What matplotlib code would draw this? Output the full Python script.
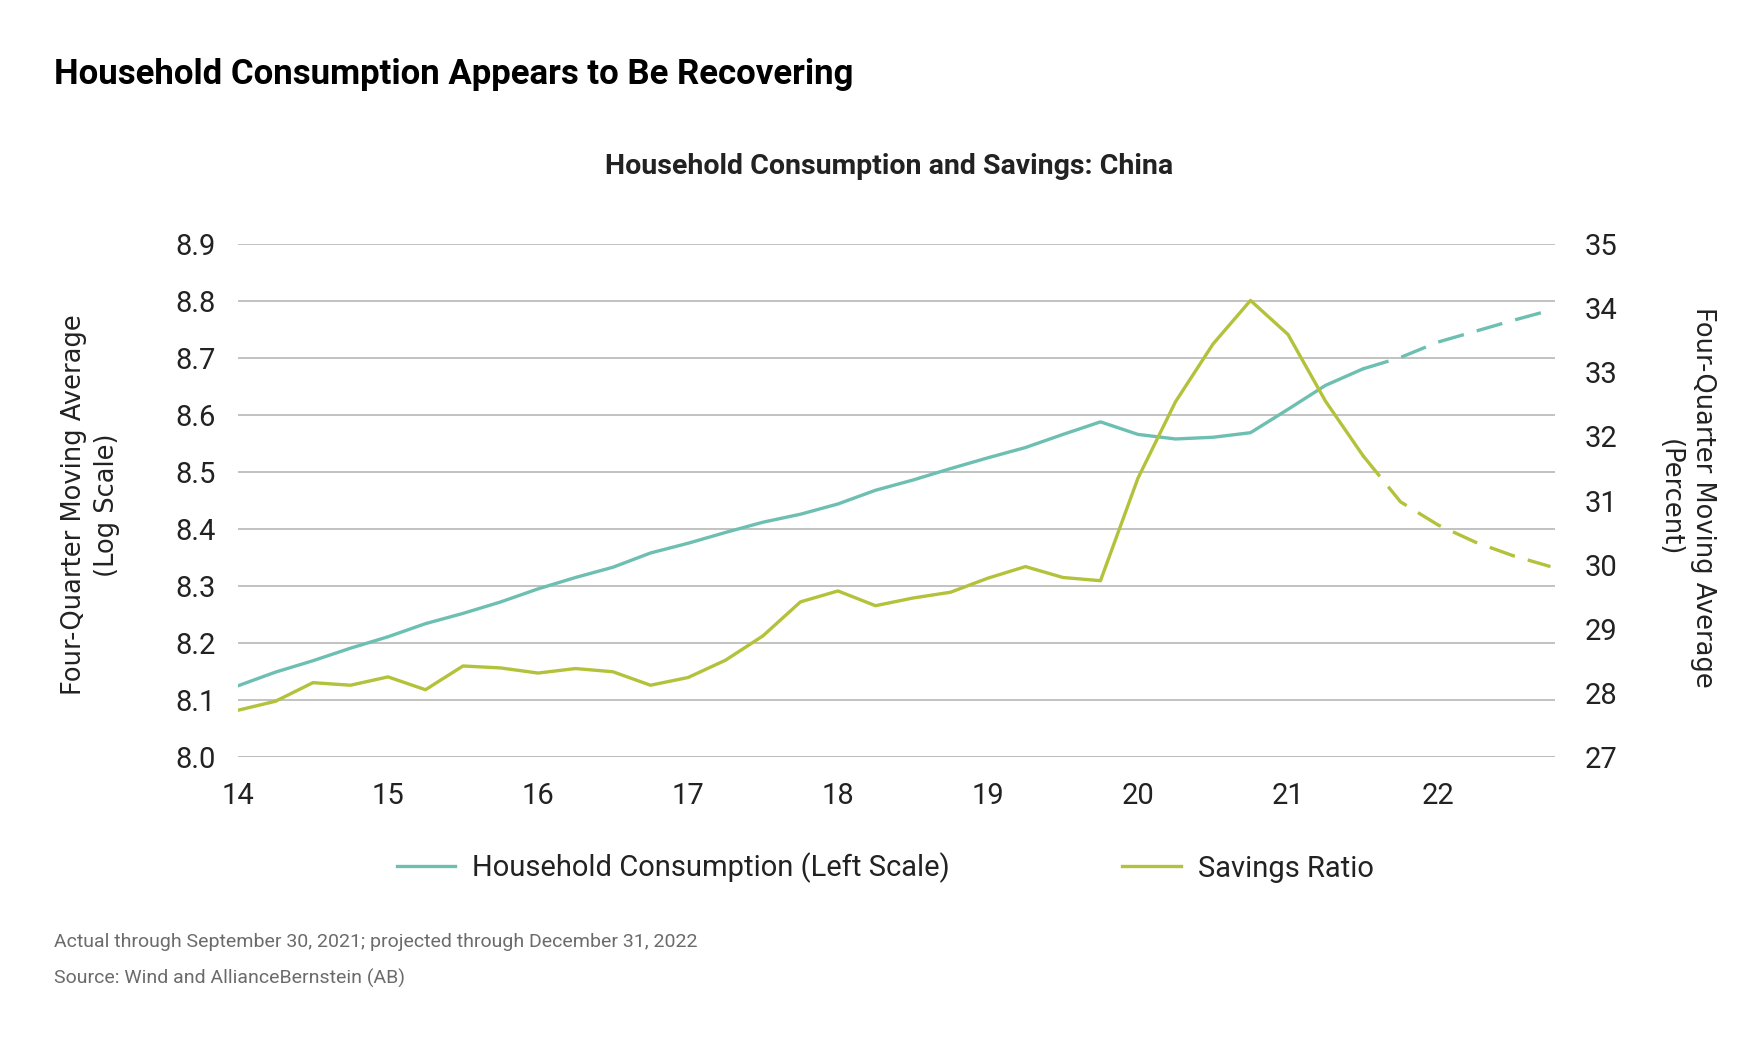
import matplotlib.pyplot as plt
import numpy as np

# quarterly x positions (year 2014 -> 14)
quarters = np.arange(14, 22.76, 0.25)

consumption = [8.125, 8.149, 8.169, 8.191, 8.211, 8.234, 8.252, 8.272,
               8.295, 8.315, 8.333, 8.358, 8.375, 8.394, 8.412, 8.426,
               8.444, 8.468, 8.486, 8.506, 8.525, 8.543, 8.566, 8.588,
               8.566, 8.558, 8.561, 8.569, 8.610, 8.652, 8.681, 8.701,
               8.728, 8.747, 8.766, 8.784]

savings = [27.73, 27.87, 28.16, 28.12, 28.25, 28.05, 28.42, 28.39,
           28.31, 28.38, 28.33, 28.12, 28.24, 28.51, 28.89, 29.42,
           29.59, 29.36, 29.48, 29.57, 29.79, 29.97, 29.80, 29.75,
           31.35, 32.54, 33.44, 34.12, 33.59, 32.55, 31.70, 30.98,
           30.62, 30.35, 30.14, 29.97]

# last actual point is Q3 2021
n_actual = 31

left_ticks = [8.0, 8.1, 8.2, 8.3, 8.4, 8.5, 8.6, 8.7, 8.8, 8.9]
right_ticks = [27, 28, 29, 30, 31, 32, 33, 34, 35]
x_ticks = [14, 15, 16, 17, 18, 19, 20, 21, 22]

teal = '#6dbfb2'
green = '#b3c23a'
narrow = ['Roboto', 'DejaVu Sans']

fig = plt.figure(figsize=(17.46, 10.5), dpi=100)
ax = fig.add_axes([0.1363, 0.279, 0.7543, 0.4886])
ax2 = ax.twinx()

ax.plot(quarters[:n_actual], consumption[:n_actual], color=teal, lw=2.4)
ax.plot(quarters[n_actual - 1:], consumption[n_actual - 1:], color=teal,
        lw=2.4, linestyle=(0, (8, 4)))
ax2.plot(quarters[:n_actual], savings[:n_actual], color=green, lw=2.4)
ax2.plot(quarters[n_actual - 1:], savings[n_actual - 1:], color=green,
         lw=2.4, linestyle=(0, (8, 4)))

ax.set_xlim(14, 22.78)
ax.set_ylim(8.0, 8.9)
ax2.set_ylim(27, 35)
ax.set_yticks(left_ticks)
ax.set_yticklabels([f'{v:.1f}' for v in left_ticks])
ax2.set_yticks(right_ticks)
ax.set_xticks(x_ticks)

ax.grid(axis='y', color='#bdbdbd', lw=1.3)
ax.set_axisbelow(True)
for a in (ax, ax2):
    for s in a.spines.values():
        s.set_visible(False)
    a.tick_params(length=0, labelsize=21, colors='#222222')
ax.tick_params(axis='x', pad=18)
ax.tick_params(axis='y', pad=16)
ax2.tick_params(axis='y', pad=21)
ax.axhline(8.0, color='#bdbdbd', lw=2.2)

for lab in ax.get_xticklabels() + ax.get_yticklabels() + ax2.get_yticklabels():
    lab.set_family(narrow)

fig.text(0.052, 0.519, 'Four-Quarter Moving Average\n(Log Scale)',
         rotation=90, ha='center', va='center', fontsize=18.5,
         color='#222222', linespacing=1.35)
fig.text(0.966, 0.526, 'Four-Quarter Moving Average\n(Percent)',
         rotation=-90, ha='center', va='center', fontsize=18.5,
         color='#222222', linespacing=1.35)

fig.text(0.031, 0.9286, 'Household Consumption Appears to Be Recovering',
         fontsize=25, fontweight='bold', family=narrow,
         ha='left', va='center', color='black')
fig.text(0.509, 0.841, 'Household Consumption and Savings: China',
         fontsize=20.5, fontweight='bold', family=narrow,
         ha='center', va='center', color='#222222')

h1, = ax.plot([], [], color=teal, lw=2.4)
h2, = ax.plot([], [], color=green, lw=2.4)
leg = fig.legend([h1, h2], ['Household Consumption (Left Scale)', 'Savings Ratio'],
                 loc='center', bbox_to_anchor=(0.507, 0.1733), ncol=2,
                 frameon=False, handlelength=2.0, handletextpad=0.6,
                 columnspacing=5.9, prop={'family': narrow, 'size': 21})
for t in leg.get_texts():
    t.set_color('#222222')

fig.text(0.031, 0.103, 'Actual through September 30, 2021; projected through December 31, 2022',
         fontsize=14, family=narrow, color='#6b6b6b', ha='left', va='center')
fig.text(0.031, 0.068, 'Source: Wind and AllianceBernstein (AB)',
         fontsize=14, family=narrow, color='#6b6b6b', ha='left', va='center')

fig.savefig('out.png', dpi=100, facecolor='white')
